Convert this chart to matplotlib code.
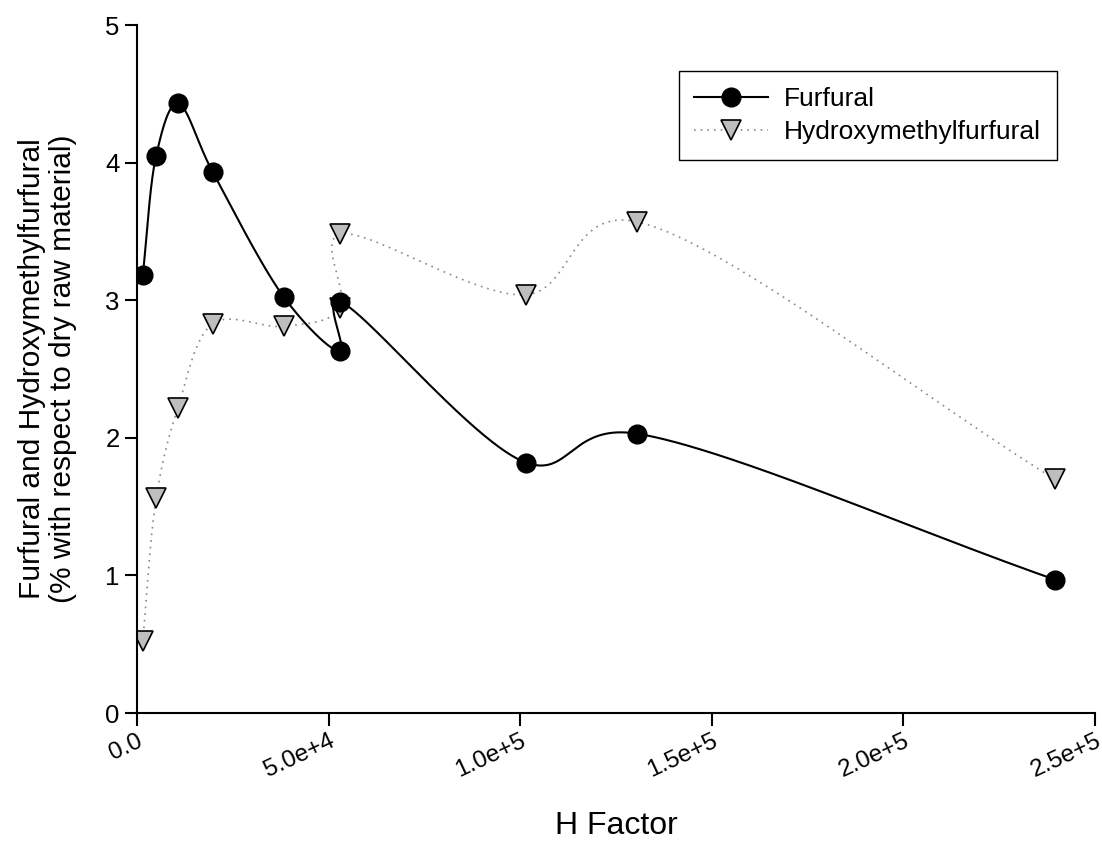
import numpy as np
import matplotlib.pyplot as plt

plt.rcParams['font.family'] = ['Liberation Sans', 'DejaVu Sans']

# data
h_factor = [1500, 5000, 10700, 19800, 38400, 53000, 53000, 101500, 130500, 239500]
furfural = [3.18, 4.05, 4.43, 3.93, 3.02, 2.63, 2.99, 1.82, 2.03, 0.97]
hmf = [0.52, 1.56, 2.22, 2.83, 2.81, 2.94, 3.48, 3.04, 3.57, 1.70]

xticks = [0, 5e4, 1e5, 1.5e5, 2e5, 2.5e5]
xticklabels = ['0.0', '5.0e+4', '1.0e+5', '1.5e+5', '2.0e+5', '2.5e+5']


def catmull_rom(x, y, sx=958 / 2.5e5, sy=138.0, alpha=0.2, n=80):
    # catmull-rom through the points, done in pixel-ish space
    P = np.column_stack([np.asarray(x, float) * sx, np.asarray(y, float) * sy])
    P = np.vstack([2 * P[0] - P[1], P, 2 * P[-1] - P[-2]])
    out = []
    for i in range(1, len(P) - 2):
        p0, p1, p2, p3 = P[i - 1], P[i], P[i + 1], P[i + 2]
        t0 = 0.0
        t1 = t0 + np.linalg.norm(p1 - p0) ** alpha
        t2 = t1 + np.linalg.norm(p2 - p1) ** alpha
        t3 = t2 + np.linalg.norm(p3 - p2) ** alpha
        t = np.linspace(t1, t2, n)[:, None]
        a1 = (t1 - t) / (t1 - t0) * p0 + (t - t0) / (t1 - t0) * p1
        a2 = (t2 - t) / (t2 - t1) * p1 + (t - t1) / (t2 - t1) * p2
        a3 = (t3 - t) / (t3 - t2) * p2 + (t - t2) / (t3 - t2) * p3
        b1 = (t2 - t) / (t2 - t0) * a1 + (t - t0) / (t2 - t0) * a2
        b2 = (t3 - t) / (t3 - t1) * a2 + (t - t1) / (t3 - t1) * a3
        c = (t2 - t) / (t2 - t1) * b1 + (t - t1) / (t2 - t1) * b2
        out.append(c)
    out = np.vstack(out)
    return out[:, 0] / sx, out[:, 1] / sy


fig = plt.figure(figsize=(11.02, 8.43), dpi=100)
ax = fig.add_axes([0.1243, 0.1542, 0.8693, 0.8161])

fx, fy = catmull_rom(h_factor, furfural)
hx, hy = catmull_rom(h_factor, hmf)
ax.plot(hx, hy, color='#888888', lw=1.2, ls=(0, (1, 3)))
ax.plot(fx, fy, color='black', lw=1.5)
ax.plot(h_factor, hmf, ls='none', marker='v', ms=14, mfc='#bebebe', mec='black', mew=1.2)
ax.plot(h_factor, furfural, ls='none', marker='o', ms=13.5, mfc='black', mec='black')

# legend proxies
ax.plot([], [], color='black', lw=1.5, marker='o', ms=13.5, label='Furfural')
ax.plot([], [], color='#888888', lw=1.2, ls=(0, (1, 3)), marker='v', ms=14,
        mfc='#bebebe', mec='black', mew=1.2, label='Hydroxymethylfurfural')
ax.legend(loc='upper right', bbox_to_anchor=(0.9603, 0.933), fontsize=19,
          frameon=True, fancybox=False, edgecolor='black', framealpha=1,
          handlelength=2.8, borderpad=0.6, labelspacing=0.35, handletextpad=0.6,
          borderaxespad=0)

ax.set_xlim(0, 2.5e5)
ax.set_ylim(0, 5)
ax.spines['top'].set_visible(False)
ax.spines['right'].set_visible(False)
ax.spines['left'].set_linewidth(1.5)
ax.spines['bottom'].set_linewidth(1.5)
ax.tick_params(direction='out', length=9, width=1.5, labelsize=18.5)
ax.set_yticks([0, 1, 2, 3, 4, 5])
ax.set_xticks(xticks)
ax.set_xticklabels(xticklabels, rotation=25, ha='right', va='top',
                   rotation_mode='anchor', fontsize=17.5)
ax.set_xlabel('H Factor', fontsize=23, labelpad=21)
ax.set_ylabel('Furfural and Hydroxymethylfurfural\n(% with respect to dry raw material)',
              fontsize=21.5, labelpad=20, linespacing=1.15)

fig.savefig('out.png', dpi=100)
